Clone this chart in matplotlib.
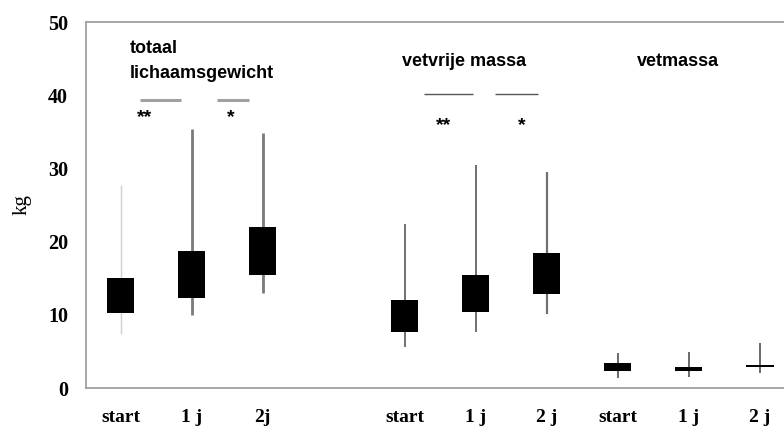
import matplotlib
matplotlib.use("Agg")
import matplotlib.pyplot as plt

# Data
categories = ["start", "1 j", "2j", "start", "1 j", "2 j", "start", "1 j", "2 j"]
positions = [0, 1, 2, 4, 5, 6, 7, 8, 9]
whisker_low = [7.4, 10.0, 13.0, 5.6, 7.7, 10.1, 1.4, 1.5, 2.0]
box_low = [10.2, 12.3, 15.4, 7.7, 10.4, 12.8, 2.3, 2.35, 2.9]
box_high = [15.0, 18.7, 22.0, 12.0, 15.4, 18.4, 3.4, 2.85, 3.1]
whisker_high = [27.7, 35.4, 34.8, 22.4, 30.5, 29.5, 4.8, 4.9, 6.1]
group_titles = ["totaal\nlichaamsgewicht", "vetvrije massa", "vetmassa"]
sig_labels = ["**", "*", "**", "*"]

whisker_colors = ["#d0d0d0", "#7a7a7a", "#7a7a7a", "#707070", "#707070", "#707070",
                  "#505050", "#505050", "#505050"]
whisker_widths = [1.0, 2.0, 2.0, 1.4, 1.4, 1.6, 1.2, 1.2, 1.2]

fig = plt.figure(figsize=(7.84, 4.32), dpi=100)
ax = fig.add_axes([86 / 784, 44 / 432, 1 - 86 / 784, (388 - 22) / 432])

for i, p in enumerate(positions):
    ax.vlines(p, whisker_low[i], whisker_high[i], color=whisker_colors[i],
              lw=whisker_widths[i], zorder=1)
bw = [0.38] * 9
bw[8] = 0.40
ax.bar(positions, [h - l for h, l in zip(box_high, box_low)], bottom=box_low,
       width=bw, color="black", zorder=2)

ax.set_xlim(-0.49, 9.34)
ax.set_ylim(0, 50)
ax.set_yticks([0, 10, 20, 30, 40, 50])
ax.set_xticks(positions)
ax.set_xticklabels(categories)
ax.tick_params(length=0)
for lab in ax.get_yticklabels():
    lab.set_fontfamily("Liberation Serif")
    lab.set_fontweight("bold")
    lab.set_fontsize(14.5)
for lab in ax.get_xticklabels():
    lab.set_fontfamily("Liberation Serif")
    lab.set_fontweight("bold")
    lab.set_fontsize(14)
ax.tick_params(axis="x", pad=15)
ax.tick_params(axis="y", pad=13)
ax.set_ylabel("kg", fontfamily="Liberation Serif", fontsize=15)
ax.yaxis.set_label_coords(-0.078, 0.5)

for s in ["left", "top", "bottom"]:
    ax.spines[s].set_color("#a0a0a0")
    ax.spines[s].set_linewidth(1.3)
ax.spines["right"].set_visible(False)

sans = dict(fontfamily="Liberation Sans", fontweight="bold", fontsize=13)
ax.text(0.12, 44.7, group_titles[0], ha="left", va="center", linespacing=1.65, **sans)
ax.text(4.83, 44.6, group_titles[1], ha="center", va="center", **sans)
ax.text(7.85, 44.6, group_titles[2], ha="center", va="center", **sans)

# significance bars
ax.hlines(39.3, 0.27, 0.85, color="#a0a0a0", lw=2.2)
ax.hlines(39.3, 1.35, 1.81, color="#a0a0a0", lw=2.2)
ax.hlines(40.2, 4.27, 4.96, color="#555555", lw=1.0)
ax.hlines(40.2, 5.27, 5.87, color="#555555", lw=1.0)
star = dict(fontfamily="Liberation Sans", fontweight="bold", fontsize=14, ha="center", va="center")
ax.text(0.33, 37.0, sig_labels[0], **star)
ax.text(1.55, 37.0, sig_labels[1], **star)
ax.text(4.55, 35.9, sig_labels[2], **star)
ax.text(5.65, 35.9, sig_labels[3], **star)

fig.savefig("out.png", dpi=100)
